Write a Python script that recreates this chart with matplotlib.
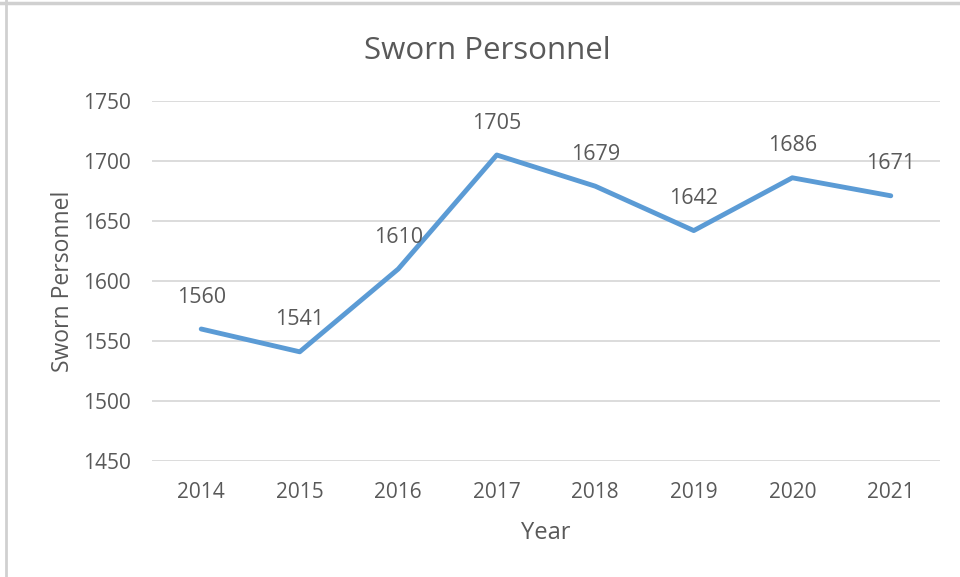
import matplotlib
matplotlib.use("Agg")
import matplotlib.pyplot as plt
from matplotlib.lines import Line2D

years = ["2014", "2015", "2016", "2017", "2018", "2019", "2020", "2021"]
personnel = [1560, 1541, 1610, 1705, 1679, 1642, 1686, 1671]
yticks = [1450, 1500, 1550, 1600, 1650, 1700, 1750]

plt.rcParams['font.family'] = ['Open Sans', 'DejaVu Sans']
txt = '#595959'

fig = plt.figure(figsize=(9.6, 5.77), dpi=100)
ax = fig.add_axes([0.1583, 0.201, 0.9792 - 0.1583, 0.825 - 0.201])

x = list(range(len(years)))
ax.plot(x, personnel, color='#5B9BD5', linewidth=3.5, solid_capstyle='round', zorder=3)
for xi, v in zip(x, personnel):
    ax.annotate(str(v), (xi, v), xytext=(0, 23), textcoords='offset points',
                ha='center', va='center', fontsize=15.5, color=txt)

ax.set_xlim(-0.5, len(years) - 0.5)
ax.set_ylim(1450, 1750)
ax.set_yticks(yticks)
ax.set_xticks(x)
ax.set_xticklabels(years)
ax.grid(axis='y', color='#D9D9D9', linewidth=1.3)
ax.set_axisbelow(True)
for s in ax.spines.values():
    s.set_visible(False)
ax.tick_params(axis='both', length=0, labelsize=15, colors=txt)
ax.tick_params(axis='x', pad=15)
ax.tick_params(axis='y', pad=15)

ax.set_title('Sworn Personnel', fontsize=22.5, color=txt, pad=30, x=0.426)
ax.set_xlabel('Year', fontsize=17, color=txt, labelpad=13)
ax.set_ylabel('Sworn Personnel', fontsize=16.5, color=txt, labelpad=6)

fig.add_artist(Line2D([0, 1], [1 - 2.5/577, 1 - 2.5/577], color='#D0D0D0', linewidth=2.5))
fig.add_artist(Line2D([5.5/960, 5.5/960], [0, 1], color='#D0D0D0', linewidth=2))

fig.savefig('out.png', dpi=100, facecolor='white')
